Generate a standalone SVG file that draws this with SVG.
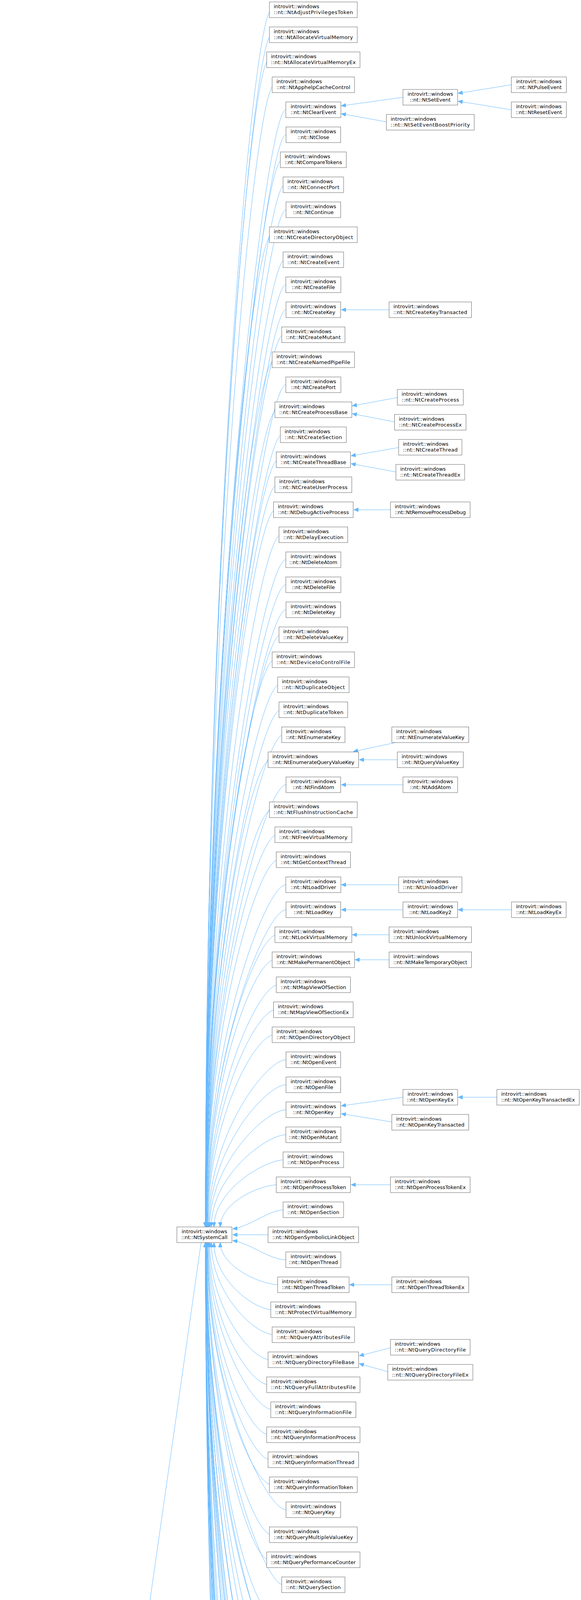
<svg xmlns="http://www.w3.org/2000/svg" width="1488" height="6387" viewBox="0 0 1488 6387">
<style>
rect{fill:#fff;stroke:#666;stroke-width:1}
text{font-family:"DejaVu Sans","Liberation Sans",sans-serif;font-size:13px;fill:#000}
.c{text-anchor:middle}
#edges path{fill:none;stroke:#63b8ff;stroke-width:1;marker-end:url(#a)}
.root rect{fill:#999}
</style>
<defs><marker id="a" markerUnits="userSpaceOnUse" markerWidth="12" markerHeight="10" refX="12" refY="5" orient="auto" viewBox="0 0 12 10"><path d="M0,0 L12,5 L0,10 z" fill="#63b8ff" stroke="#63b8ff"/></marker></defs>
<rect x="0" y="0" width="1488" height="6387" style="fill:#fff;stroke:none"/>
<g id="edges">
<path d="M209,4729 L163,4729"/>
<path d="M515,3181 L297,4707"/>
<path d="M519,6277 L297,4751"/>
<path d="M705.5,6297 L629,6297"/>
<path d="M715,6341 L622,6318"/>
<path d="M696,25 C646,25 526,1427 526,3141"/>
<path d="M696,89 C646,89 526,1462 526,3141"/>
<path d="M689,153 C639,153 526,1498 526,3141"/>
<path d="M702.5,217 C652,217 526,1533 526,3141"/>
<path d="M732,281 C682,281 526,1568 526,3141"/>
<path d="M732.5,345 C682,345 526,1603 526,3141"/>
<path d="M722,409 C672,409 526,1638 526,3141"/>
<path d="M729,473 C679,473 526,1673 526,3141"/>
<path d="M732.5,537 C682,537 526,1708 526,3141"/>
<path d="M696,601 C646,601 526,1744 526,3141"/>
<path d="M729,665 C679,665 526,1779 526,3141"/>
<path d="M732,729 C682,729 526,1814 526,3141"/>
<path d="M732.5,793 C682,793 526,1849 526,3141"/>
<path d="M725.5,857 C675,857 526,1884 526,3141"/>
<path d="M702.5,921 C652,921 526,1920 526,3141"/>
<path d="M732,985 C682,985 526,1955 526,3141"/>
<path d="M709,1049 C659,1049 526,1990 526,3141"/>
<path d="M722,1113 C672,1113 526,2025 526,3141"/>
<path d="M712.5,1177 C662,1177 526,2060 526,3141"/>
<path d="M709,1241 C659,1241 527,2096 527,3141"/>
<path d="M705.5,1305 C655,1305 527,2131 527,3141"/>
<path d="M719,1369 C669,1369 527,2166 527,3141"/>
<path d="M732,1433 C682,1433 527,2201 527,3141"/>
<path d="M732,1497 C682,1497 527,2236 527,3141"/>
<path d="M732.5,1561 C682,1561 527,2272 527,3141"/>
<path d="M719,1625 C669,1625 527,2307 527,3141"/>
<path d="M702.5,1689 C652,1689 527,2342 527,3141"/>
<path d="M715.5,1753 C665,1753 527,2377 527,3141"/>
<path d="M719,1817 C669,1817 527,2412 527,3141"/>
<path d="M725.5,1881 C675,1881 528,2448 528,3141"/>
<path d="M692.5,1945 C642,1945 528,2483 528,3141"/>
<path d="M732.5,2009 C682,2009 528,2518 528,3141"/>
<path d="M696,2073 C646,2073 528,2553 528,3141"/>
<path d="M709,2137 C659,2137 528,2588 528,3141"/>
<path d="M712.5,2201 C662,2201 528,2624 528,3141"/>
<path d="M732,2265 C682,2265 528,2659 528,3141"/>
<path d="M732.5,2329 C682,2329 529,2694 529,3141"/>
<path d="M709,2393 C659,2393 529,2729 529,3141"/>
<path d="M702.5,2457 C652,2457 530,2764 530,3141"/>
<path d="M712.5,2521 C662,2521 530,2800 530,3141"/>
<path d="M705.5,2585 C655,2585 531,2835 531,3141"/>
<path d="M702.5,2649 C652,2649 532,2870 532,3141"/>
<path d="M732.5,2713 C682,2713 533,2905 533,3141"/>
<path d="M732.5,2777 C682,2777 535,2940 535,3141"/>
<path d="M732.5,2841 C682,2841 537,2976 537,3141"/>
<path d="M732,2905 C682,2905 541,3011 541,3141"/>
<path d="M729,2969 C679,2969 548,3046 548,3141"/>
<path d="M712.5,3033 C662,3033 564,3081 564,3141"/>
<path d="M729,3097 C689,3097 640,3140 596,3146"/>
<path d="M692.5,3161 L596,3161"/>
<path d="M732,3225 C690,3225 640,3182 596,3176"/>
<path d="M715.5,3289 C665,3289 564,3240 564,3181"/>
<path d="M699,3353 C649,3353 548,3275 548,3181"/>
<path d="M702.5,3417 C652,3417 541,3310 541,3181"/>
<path d="M692.5,3481 C642,3481 537,3346 537,3181"/>
<path d="M689,3545 C639,3545 535,3381 535,3181"/>
<path d="M699,3609 C649,3609 533,3416 533,3181"/>
<path d="M689,3673 C639,3673 532,3451 532,3181"/>
<path d="M692.5,3737 C642,3737 531,3486 531,3181"/>
<path d="M696,3801 C646,3801 530,3522 530,3181"/>
<path d="M732.5,3865 C682,3865 530,3557 530,3181"/>
<path d="M696,3929 C646,3929 529,3592 529,3181"/>
<path d="M689,3993 C639,3993 529,3627 529,3181"/>
<path d="M725.5,4057 C675,4057 528,3662 528,3181"/>
<path d="M689,4121 C639,4121 528,3698 528,3181"/>
<path d="M692.5,4185 C642,4185 528,3733 528,3181"/>
<path d="M715.5,4249 C665,4249 528,3768 528,3181"/>
<path d="M705.5,4313 C655,4313 528,3803 528,3181"/>
<path d="M679.5,4377 C629,4377 528,3838 528,3181"/>
<path d="M719,4441 C669,4441 528,3874 528,3181"/>
<path d="M709,4505 C659,4505 527,3909 527,3181"/>
<path d="M722,4569 C672,4569 527,3944 527,3181"/>
<path d="M705.5,4633 C655,4633 527,3979 527,3181"/>
<path d="M699,4697 C649,4697 527,4014 527,3181"/>
<path d="M732.5,4761 C682,4761 527,4050 527,3181"/>
<path d="M732,4825 C682,4825 527,4085 527,3181"/>
<path d="M732.5,4889 C682,4889 527,4120 527,3181"/>
<path d="M729,4953 C679,4953 527,4155 527,3181"/>
<path d="M725.5,5017 C675,5017 527,4190 527,3181"/>
<path d="M732.5,5081 C682,5081 527,4226 527,3181"/>
<path d="M712.5,5145 C662,5145 526,4261 526,3181"/>
<path d="M705.5,5209 C655,5209 526,4296 526,3181"/>
<path d="M696,5273 C646,5273 526,4331 526,3181"/>
<path d="M699,5337 C649,5337 526,4366 526,3181"/>
<path d="M702.5,5401 C652,5401 526,4402 526,3181"/>
<path d="M699,5465 C649,5465 526,4437 526,3181"/>
<path d="M722,5529 C672,5529 526,4472 526,3181"/>
<path d="M729,5593 C679,5593 526,4507 526,3181"/>
<path d="M686,5657 C636,5657 526,4542 526,3181"/>
<path d="M719,5721 C669,5721 526,4578 526,3181"/>
<path d="M722,5785 C672,5785 526,4613 526,3181"/>
<path d="M712.5,5849 C662,5849 526,4648 526,3181"/>
<path d="M715.5,5913 C665,5913 526,4683 526,3181"/>
<path d="M725.5,5977 C675,5977 526,4718 526,3181"/>
<path d="M732,6041 C682,6041 526,4754 526,3181"/>
<path d="M705.5,6105 C655,6105 526,4789 526,3181"/>
<path d="M705.5,6169 C655,6169 526,4824 526,3181"/>
<path d="M705.5,6233 C655,6233 526,4859 526,3181"/>
<path d="M1032,249 L874,271"/>
<path d="M995.5,313 L874,291"/>
<path d="M1309.5,217 L1173,239"/>
<path d="M1309.5,281 L1173,259"/>
<path d="M1002,793 L874,793"/>
<path d="M1021.5,1017 L902,1039"/>
<path d="M1015,1081 L902,1059"/>
<path d="M1025,1145 L899,1167"/>
<path d="M1018.5,1209 L899,1187"/>
<path d="M1005,1305 L906,1305"/>
<path d="M1013,1901 L905,1924"/>
<path d="M1021.5,1945 L920,1945"/>
<path d="M1032,2009 L874,2009"/>
<path d="M1025,2265 L874,2265"/>
<path d="M1032,2329 L874,2329"/>
<path d="M1310,2329 L1173,2329"/>
<path d="M1002,2393 L902,2393"/>
<path d="M1002,2457 L909,2457"/>
<path d="M1032,2809 L874,2831"/>
<path d="M1008.5,2873 L874,2851"/>
<path d="M1280,2809 L1173,2809"/>
<path d="M1005,3033 L899,3033"/>
<path d="M1008.5,3289 L895,3289"/>
<path d="M1005,3449 L920,3471"/>
<path d="M998.5,3513 L920,3491"/>
<path d="M985.5,4185 L920,4185"/>
<path d="M1032,4537 L888,4559"/>
<path d="M1032,4601 L888,4579"/>
<path d="M998.5,4953 L881,4953"/>
<path d="M1032,5081 L874,5081"/>
<path d="M992,6137 L906,6159"/>
<path d="M1002,6201 L906,6179"/>
</g>
<g id="SystemCall" class="root" transform="translate(83.5,4729)"><rect x="-78.5" y="-20" width="157" height="40"/><text class="c" y="4">introvirt::SystemCall</text></g>
<g id="WindowsSystemCall" transform="translate(290.5,4729)"><rect x="-81.5" y="-20" width="163" height="40"/><text x="-70.5" y="-4">introvirt::windows</text><text x="-70.5" y="11" textLength="141">::WindowsSystemCall</text></g>
<g id="NtSystemCall" transform="translate(523.5,3161)"><rect x="-70.5" y="-20" width="141" height="40"/><text class="c" y="-4">introvirt::windows</text><text class="c" y="11">::nt::NtSystemCall</text></g>
<g id="Win32kSystemCall" transform="translate(524,6297)"><rect x="-104" y="-20" width="208" height="40"/><text x="-93" y="-4">introvirt::windows</text><text x="-93" y="11" textLength="186">::win32k::Win32kSystemCall</text></g>
<g id="n0" transform="translate(802.5,25)"><rect x="-112.5" y="-20" width="225" height="40"/><text x="-101.5" y="-4">introvirt::windows</text><text x="-101.5" y="11" textLength="203">::nt::NtAdjustPrivilegesToken</text></g>
<g id="n1" transform="translate(802.5,89)"><rect x="-112.5" y="-20" width="225" height="40"/><text x="-101.5" y="-4">introvirt::windows</text><text x="-101.5" y="11" textLength="203">::nt::NtAllocateVirtualMemory</text></g>
<g id="n2" transform="translate(802.5,153)"><rect x="-119.5" y="-20" width="239" height="40"/><text x="-108.5" y="-4">introvirt::windows</text><text x="-108.5" y="11" textLength="217">::nt::NtAllocateVirtualMemoryEx</text></g>
<g id="n3" transform="translate(802.5,217)"><rect x="-105.5" y="-20" width="211" height="40"/><text x="-94.5" y="-4">introvirt::windows</text><text x="-94.5" y="11" textLength="189">::nt::NtApphelpCacheControl</text></g>
<g id="n4" transform="translate(802.5,281)"><rect x="-70.5" y="-20" width="141" height="40"/><text class="c" y="-4">introvirt::windows</text><text class="c" y="11">::nt::NtClearEvent</text></g>
<g id="n5" transform="translate(802.5,345)"><rect x="-70" y="-20" width="140" height="40"/><text class="c" y="-4">introvirt::windows</text><text class="c" y="11">::nt::NtClose</text></g>
<g id="n6" transform="translate(802.5,409)"><rect x="-84.5" y="-20" width="169" height="40"/><text x="-73.5" y="-4">introvirt::windows</text><text x="-73.5" y="11" textLength="147">::nt::NtCompareTokens</text></g>
<g id="n7" transform="translate(802.5,473)"><rect x="-77.5" y="-20" width="155" height="40"/><text x="-66.5" y="-4">introvirt::windows</text><text x="-66.5" y="11" textLength="133">::nt::NtConnectPort</text></g>
<g id="n8" transform="translate(802.5,537)"><rect x="-70" y="-20" width="140" height="40"/><text class="c" y="-4">introvirt::windows</text><text class="c" y="11">::nt::NtContinue</text></g>
<g id="n9" transform="translate(802.5,601)"><rect x="-112.5" y="-20" width="225" height="40"/><text x="-101.5" y="-4">introvirt::windows</text><text x="-101.5" y="11" textLength="203">::nt::NtCreateDirectoryObject</text></g>
<g id="n10" transform="translate(802.5,665)"><rect x="-77.5" y="-20" width="155" height="40"/><text x="-66.5" y="-4">introvirt::windows</text><text x="-66.5" y="11" textLength="133">::nt::NtCreateEvent</text></g>
<g id="n11" transform="translate(802.5,729)"><rect x="-70.5" y="-20" width="141" height="40"/><text class="c" y="-4">introvirt::windows</text><text class="c" y="11">::nt::NtCreateFile</text></g>
<g id="n12" transform="translate(802.5,793)"><rect x="-70" y="-20" width="140" height="40"/><text class="c" y="-4">introvirt::windows</text><text class="c" y="11">::nt::NtCreateKey</text></g>
<g id="n13" transform="translate(802.5,857)"><rect x="-81" y="-20" width="162" height="40"/><text x="-70" y="-4">introvirt::windows</text><text x="-70" y="11" textLength="140">::nt::NtCreateMutant</text></g>
<g id="n14" transform="translate(802.5,921)"><rect x="-105.5" y="-20" width="211" height="40"/><text x="-94.5" y="-4">introvirt::windows</text><text x="-94.5" y="11" textLength="189">::nt::NtCreateNamedPipeFile</text></g>
<g id="n15" transform="translate(802.5,985)"><rect x="-70.5" y="-20" width="141" height="40"/><text class="c" y="-4">introvirt::windows</text><text class="c" y="11">::nt::NtCreatePort</text></g>
<g id="n16" transform="translate(802.5,1049)"><rect x="-98.5" y="-20" width="197" height="40"/><text x="-87.5" y="-4">introvirt::windows</text><text x="-87.5" y="11" textLength="175">::nt::NtCreateProcessBase</text></g>
<g id="n17" transform="translate(802.5,1113)"><rect x="-84.5" y="-20" width="169" height="40"/><text x="-73.5" y="-4">introvirt::windows</text><text x="-73.5" y="11" textLength="147">::nt::NtCreateSection</text></g>
<g id="n18" transform="translate(802.5,1177)"><rect x="-95" y="-20" width="190" height="40"/><text x="-84" y="-4">introvirt::windows</text><text x="-84" y="11" textLength="168">::nt::NtCreateThreadBase</text></g>
<g id="n19" transform="translate(802.5,1241)"><rect x="-98.5" y="-20" width="197" height="40"/><text x="-87.5" y="-4">introvirt::windows</text><text x="-87.5" y="11" textLength="175">::nt::NtCreateUserProcess</text></g>
<g id="n20" transform="translate(802.5,1305)"><rect x="-102" y="-20" width="204" height="40"/><text x="-91" y="-4">introvirt::windows</text><text x="-91" y="11" textLength="182">::nt::NtDebugActiveProcess</text></g>
<g id="n21" transform="translate(802.5,1369)"><rect x="-88" y="-20" width="176" height="40"/><text x="-77" y="-4">introvirt::windows</text><text x="-77" y="11" textLength="154">::nt::NtDelayExecution</text></g>
<g id="n22" transform="translate(802.5,1433)"><rect x="-70.5" y="-20" width="141" height="40"/><text class="c" y="-4">introvirt::windows</text><text class="c" y="11">::nt::NtDeleteAtom</text></g>
<g id="n23" transform="translate(802.5,1497)"><rect x="-70.5" y="-20" width="141" height="40"/><text class="c" y="-4">introvirt::windows</text><text class="c" y="11">::nt::NtDeleteFile</text></g>
<g id="n24" transform="translate(802.5,1561)"><rect x="-70" y="-20" width="140" height="40"/><text class="c" y="-4">introvirt::windows</text><text class="c" y="11">::nt::NtDeleteKey</text></g>
<g id="n25" transform="translate(802.5,1625)"><rect x="-88" y="-20" width="176" height="40"/><text x="-77" y="-4">introvirt::windows</text><text x="-77" y="11" textLength="154">::nt::NtDeleteValueKey</text></g>
<g id="n26" transform="translate(802.5,1689)"><rect x="-105.5" y="-20" width="211" height="40"/><text x="-94.5" y="-4">introvirt::windows</text><text x="-94.5" y="11" textLength="189">::nt::NtDeviceIoControlFile</text></g>
<g id="n27" transform="translate(802.5,1753)"><rect x="-91.5" y="-20" width="183" height="40"/><text x="-80.5" y="-4">introvirt::windows</text><text x="-80.5" y="11" textLength="161">::nt::NtDuplicateObject</text></g>
<g id="n28" transform="translate(802.5,1817)"><rect x="-88" y="-20" width="176" height="40"/><text x="-77" y="-4">introvirt::windows</text><text x="-77" y="11" textLength="154">::nt::NtDuplicateToken</text></g>
<g id="n29" transform="translate(802.5,1881)"><rect x="-81" y="-20" width="162" height="40"/><text x="-70" y="-4">introvirt::windows</text><text x="-70" y="11" textLength="140">::nt::NtEnumerateKey</text></g>
<g id="n30" transform="translate(802.5,1945)"><rect x="-116" y="-20" width="232" height="40"/><text x="-105" y="-4">introvirt::windows</text><text x="-105" y="11" textLength="210">::nt::NtEnumerateQueryValueKey</text></g>
<g id="n31" transform="translate(802.5,2009)"><rect x="-70" y="-20" width="140" height="40"/><text class="c" y="-4">introvirt::windows</text><text class="c" y="11">::nt::NtFindAtom</text></g>
<g id="n32" transform="translate(802.5,2073)"><rect x="-112.5" y="-20" width="225" height="40"/><text x="-101.5" y="-4">introvirt::windows</text><text x="-101.5" y="11" textLength="203">::nt::NtFlushInstructionCache</text></g>
<g id="n33" transform="translate(802.5,2137)"><rect x="-98.5" y="-20" width="197" height="40"/><text x="-87.5" y="-4">introvirt::windows</text><text x="-87.5" y="11" textLength="175">::nt::NtFreeVirtualMemory</text></g>
<g id="n34" transform="translate(802.5,2201)"><rect x="-95" y="-20" width="190" height="40"/><text x="-84" y="-4">introvirt::windows</text><text x="-84" y="11" textLength="168">::nt::NtGetContextThread</text></g>
<g id="n35" transform="translate(802.5,2265)"><rect x="-70.5" y="-20" width="141" height="40"/><text class="c" y="-4">introvirt::windows</text><text class="c" y="11">::nt::NtLoadDriver</text></g>
<g id="n36" transform="translate(802.5,2329)"><rect x="-70" y="-20" width="140" height="40"/><text class="c" y="-4">introvirt::windows</text><text class="c" y="11">::nt::NtLoadKey</text></g>
<g id="n37" transform="translate(802.5,2393)"><rect x="-98.5" y="-20" width="197" height="40"/><text x="-87.5" y="-4">introvirt::windows</text><text x="-87.5" y="11" textLength="175">::nt::NtLockVirtualMemory</text></g>
<g id="n38" transform="translate(802.5,2457)"><rect x="-105.5" y="-20" width="211" height="40"/><text x="-94.5" y="-4">introvirt::windows</text><text x="-94.5" y="11" textLength="189">::nt::NtMakePermanentObject</text></g>
<g id="n39" transform="translate(802.5,2521)"><rect x="-95" y="-20" width="190" height="40"/><text x="-84" y="-4">introvirt::windows</text><text x="-84" y="11" textLength="168">::nt::NtMapViewOfSection</text></g>
<g id="n40" transform="translate(802.5,2585)"><rect x="-102" y="-20" width="204" height="40"/><text x="-91" y="-4">introvirt::windows</text><text x="-91" y="11" textLength="182">::nt::NtMapViewOfSectionEx</text></g>
<g id="n41" transform="translate(802.5,2649)"><rect x="-105.5" y="-20" width="211" height="40"/><text x="-94.5" y="-4">introvirt::windows</text><text x="-94.5" y="11" textLength="189">::nt::NtOpenDirectoryObject</text></g>
<g id="n42" transform="translate(802.5,2713)"><rect x="-70" y="-20" width="140" height="40"/><text class="c" y="-4">introvirt::windows</text><text class="c" y="11">::nt::NtOpenEvent</text></g>
<g id="n43" transform="translate(802.5,2777)"><rect x="-70" y="-20" width="140" height="40"/><text class="c" y="-4">introvirt::windows</text><text class="c" y="11">::nt::NtOpenFile</text></g>
<g id="n44" transform="translate(802.5,2841)"><rect x="-70" y="-20" width="140" height="40"/><text class="c" y="-4">introvirt::windows</text><text class="c" y="11">::nt::NtOpenKey</text></g>
<g id="n45" transform="translate(802.5,2905)"><rect x="-70.5" y="-20" width="141" height="40"/><text class="c" y="-4">introvirt::windows</text><text class="c" y="11">::nt::NtOpenMutant</text></g>
<g id="n46" transform="translate(802.5,2969)"><rect x="-77.5" y="-20" width="155" height="40"/><text x="-66.5" y="-4">introvirt::windows</text><text x="-66.5" y="11" textLength="133">::nt::NtOpenProcess</text></g>
<g id="n47" transform="translate(802.5,3033)"><rect x="-95" y="-20" width="190" height="40"/><text x="-84" y="-4">introvirt::windows</text><text x="-84" y="11" textLength="168">::nt::NtOpenProcessToken</text></g>
<g id="n48" transform="translate(802.5,3097)"><rect x="-77.5" y="-20" width="155" height="40"/><text x="-66.5" y="-4">introvirt::windows</text><text x="-66.5" y="11" textLength="133">::nt::NtOpenSection</text></g>
<g id="n49" transform="translate(802.5,3161)"><rect x="-116" y="-20" width="232" height="40"/><text x="-105" y="-4">introvirt::windows</text><text x="-105" y="11" textLength="210">::nt::NtOpenSymbolicLinkObject</text></g>
<g id="n50" transform="translate(802.5,3225)"><rect x="-70.5" y="-20" width="141" height="40"/><text class="c" y="-4">introvirt::windows</text><text class="c" y="11">::nt::NtOpenThread</text></g>
<g id="n51" transform="translate(802.5,3289)"><rect x="-91.5" y="-20" width="183" height="40"/><text x="-80.5" y="-4">introvirt::windows</text><text x="-80.5" y="11" textLength="161">::nt::NtOpenThreadToken</text></g>
<g id="n52" transform="translate(802.5,3353)"><rect x="-109" y="-20" width="218" height="40"/><text x="-98" y="-4">introvirt::windows</text><text x="-98" y="11" textLength="196">::nt::NtProtectVirtualMemory</text></g>
<g id="n53" transform="translate(802.5,3417)"><rect x="-105.5" y="-20" width="211" height="40"/><text x="-94.5" y="-4">introvirt::windows</text><text x="-94.5" y="11" textLength="189">::nt::NtQueryAttributesFile</text></g>
<g id="n54" transform="translate(802.5,3481)"><rect x="-116" y="-20" width="232" height="40"/><text x="-105" y="-4">introvirt::windows</text><text x="-105" y="11" textLength="210">::nt::NtQueryDirectoryFileBase</text></g>
<g id="n55" transform="translate(802.5,3545)"><rect x="-119.5" y="-20" width="239" height="40"/><text x="-108.5" y="-4">introvirt::windows</text><text x="-108.5" y="11" textLength="217">::nt::NtQueryFullAttributesFile</text></g>
<g id="n56" transform="translate(802.5,3609)"><rect x="-109" y="-20" width="218" height="40"/><text x="-98" y="-4">introvirt::windows</text><text x="-98" y="11" textLength="196">::nt::NtQueryInformationFile</text></g>
<g id="n57" transform="translate(802.5,3673)"><rect x="-119.5" y="-20" width="239" height="40"/><text x="-108.5" y="-4">introvirt::windows</text><text x="-108.5" y="11" textLength="217">::nt::NtQueryInformationProcess</text></g>
<g id="n58" transform="translate(802.5,3737)"><rect x="-116" y="-20" width="232" height="40"/><text x="-105" y="-4">introvirt::windows</text><text x="-105" y="11" textLength="210">::nt::NtQueryInformationThread</text></g>
<g id="n59" transform="translate(802.5,3801)"><rect x="-112.5" y="-20" width="225" height="40"/><text x="-101.5" y="-4">introvirt::windows</text><text x="-101.5" y="11" textLength="203">::nt::NtQueryInformationToken</text></g>
<g id="n60" transform="translate(802.5,3865)"><rect x="-70" y="-20" width="140" height="40"/><text class="c" y="-4">introvirt::windows</text><text class="c" y="11">::nt::NtQueryKey</text></g>
<g id="n61" transform="translate(802.5,3929)"><rect x="-112.5" y="-20" width="225" height="40"/><text x="-101.5" y="-4">introvirt::windows</text><text x="-101.5" y="11" textLength="203">::nt::NtQueryMultipleValueKey</text></g>
<g id="n62" transform="translate(802.5,3993)"><rect x="-119.5" y="-20" width="239" height="40"/><text x="-108.5" y="-4">introvirt::windows</text><text x="-108.5" y="11" textLength="217">::nt::NtQueryPerformanceCounter</text></g>
<g id="n63" transform="translate(802.5,4057)"><rect x="-81" y="-20" width="162" height="40"/><text x="-70" y="-4">introvirt::windows</text><text x="-70" y="11" textLength="140">::nt::NtQuerySection</text></g>
<g id="n64" transform="translate(802.5,4121)"><rect x="-119.5" y="-20" width="239" height="40"/><text x="-108.5" y="-4">introvirt::windows</text><text x="-108.5" y="11" textLength="217">::nt::NtQuerySymbolicLinkObject</text></g>
<g id="n65" transform="translate(802.5,4185)"><rect x="-116" y="-20" width="232" height="40"/><text x="-105" y="-4">introvirt::windows</text><text x="-105" y="11" textLength="210">::nt::NtQuerySystemInformation</text></g>
<g id="n66" transform="translate(802.5,4249)"><rect x="-91.5" y="-20" width="183" height="40"/><text x="-80.5" y="-4">introvirt::windows</text><text x="-80.5" y="11" textLength="161">::nt::NtQuerySystemTime</text></g>
<g id="n67" transform="translate(802.5,4313)"><rect x="-102" y="-20" width="204" height="40"/><text x="-91" y="-4">introvirt::windows</text><text x="-91" y="11" textLength="182">::nt::NtQueryVirtualMemory</text></g>
<g id="n68" transform="translate(802.5,4377)"><rect x="-130" y="-20" width="260" height="40"/><text x="-119" y="-4">introvirt::windows</text><text x="-119" y="11" textLength="238">::nt::NtQueryVolumeInformationFile</text></g>
<g id="n69" transform="translate(802.5,4441)"><rect x="-88" y="-20" width="176" height="40"/><text x="-77" y="-4">introvirt::windows</text><text x="-77" y="11" textLength="154">::nt::NtQueueApcThread</text></g>
<g id="n70" transform="translate(802.5,4505)"><rect x="-98.5" y="-20" width="197" height="40"/><text x="-87.5" y="-4">introvirt::windows</text><text x="-87.5" y="11" textLength="175">::nt::NtReadVirtualMemory</text></g>
<g id="n71" transform="translate(802.5,4569)"><rect x="-84.5" y="-20" width="169" height="40"/><text x="-73.5" y="-4">introvirt::windows</text><text x="-73.5" y="11" textLength="147">::nt::NtReadWriteFile</text></g>
<g id="n72" transform="translate(802.5,4633)"><rect x="-102" y="-20" width="204" height="40"/><text x="-91" y="-4">introvirt::windows</text><text x="-91" y="11" textLength="182">::nt::NtRemoveIoCompletion</text></g>
<g id="n73" transform="translate(802.5,4697)"><rect x="-109" y="-20" width="218" height="40"/><text x="-98" y="-4">introvirt::windows</text><text x="-98" y="11" textLength="196">::nt::NtRemoveIoCompletionEx</text></g>
<g id="n74" transform="translate(802.5,4761)"><rect x="-70" y="-20" width="140" height="40"/><text class="c" y="-4">introvirt::windows</text><text class="c" y="11">::nt::NtRenameKey</text></g>
<g id="n75" transform="translate(802.5,4825)"><rect x="-70.5" y="-20" width="141" height="40"/><text class="c" y="-4">introvirt::windows</text><text class="c" y="11">::nt::NtReplaceKey</text></g>
<g id="n76" transform="translate(802.5,4889)"><rect x="-70" y="-20" width="140" height="40"/><text class="c" y="-4">introvirt::windows</text><text class="c" y="11">::nt::NtReplyPort</text></g>
<g id="n77" transform="translate(802.5,4953)"><rect x="-77.5" y="-20" width="155" height="40"/><text x="-66.5" y="-4">introvirt::windows</text><text x="-66.5" y="11" textLength="133">::nt::NtRequestPort</text></g>
<g id="n78" transform="translate(802.5,5017)"><rect x="-81" y="-20" width="162" height="40"/><text x="-70" y="-4">introvirt::windows</text><text x="-70" y="11" textLength="140">::nt::NtResumeThread</text></g>
<g id="n79" transform="translate(802.5,5081)"><rect x="-70" y="-20" width="140" height="40"/><text class="c" y="-4">introvirt::windows</text><text class="c" y="11">::nt::NtSaveKey</text></g>
<g id="n80" transform="translate(802.5,5145)"><rect x="-95" y="-20" width="190" height="40"/><text x="-84" y="-4">introvirt::windows</text><text x="-84" y="11" textLength="168">::nt::NtSetContextThread</text></g>
<g id="n81" transform="translate(802.5,5209)"><rect x="-102" y="-20" width="204" height="40"/><text x="-91" y="-4">introvirt::windows</text><text x="-91" y="11" textLength="182">::nt::NtSetInformationFile</text></g>
<g id="n82" transform="translate(802.5,5273)"><rect x="-112.5" y="-20" width="225" height="40"/><text x="-101.5" y="-4">introvirt::windows</text><text x="-101.5" y="11" textLength="203">::nt::NtSetInformationProcess</text></g>
<g id="n83" transform="translate(802.5,5337)"><rect x="-109" y="-20" width="218" height="40"/><text x="-98" y="-4">introvirt::windows</text><text x="-98" y="11" textLength="196">::nt::NtSetInformationThread</text></g>
<g id="n84" transform="translate(802.5,5401)"><rect x="-105.5" y="-20" width="211" height="40"/><text x="-94.5" y="-4">introvirt::windows</text><text x="-94.5" y="11" textLength="189">::nt::NtSetInformationToken</text></g>
<g id="n85" transform="translate(802.5,5465)"><rect x="-109" y="-20" width="218" height="40"/><text x="-98" y="-4">introvirt::windows</text><text x="-98" y="11" textLength="196">::nt::NtSetSystemInformation</text></g>
<g id="n86" transform="translate(802.5,5529)"><rect x="-84.5" y="-20" width="169" height="40"/><text x="-73.5" y="-4">introvirt::windows</text><text x="-73.5" y="11" textLength="147">::nt::NtSetSystemTime</text></g>
<g id="n87" transform="translate(802.5,5593)"><rect x="-77.5" y="-20" width="155" height="40"/><text x="-66.5" y="-4">introvirt::windows</text><text x="-66.5" y="11" textLength="133">::nt::NtSetValueKey</text></g>
<g id="n88" transform="translate(802.5,5657)"><rect x="-123" y="-20" width="246" height="40"/><text x="-112" y="-4">introvirt::windows</text><text x="-112" y="11" textLength="224">::nt::NtSetVolumeInformationFile</text></g>
<g id="n89" transform="translate(802.5,5721)"><rect x="-88" y="-20" width="176" height="40"/><text x="-77" y="-4">introvirt::windows</text><text x="-77" y="11" textLength="154">::nt::NtShutdownSystem</text></g>
<g id="n90" transform="translate(802.5,5785)"><rect x="-84.5" y="-20" width="169" height="40"/><text x="-73.5" y="-4">introvirt::windows</text><text x="-73.5" y="11" textLength="147">::nt::NtSuspendThread</text></g>
<g id="n91" transform="translate(802.5,5849)"><rect x="-95" y="-20" width="190" height="40"/><text x="-84" y="-4">introvirt::windows</text><text x="-84" y="11" textLength="168">::nt::NtTerminateProcess</text></g>
<g id="n92" transform="translate(802.5,5913)"><rect x="-91.5" y="-20" width="183" height="40"/><text x="-80.5" y="-4">introvirt::windows</text><text x="-80.5" y="11" textLength="161">::nt::NtTerminateThread</text></g>
<g id="n93" transform="translate(802.5,5977)"><rect x="-81" y="-20" width="162" height="40"/><text x="-70" y="-4">introvirt::windows</text><text x="-70" y="11" textLength="140">::nt::NtTraceControl</text></g>
<g id="n94" transform="translate(802.5,6041)"><rect x="-70.5" y="-20" width="141" height="40"/><text class="c" y="-4">introvirt::windows</text><text class="c" y="11">::nt::NtTraceEvent</text></g>
<g id="n95" transform="translate(802.5,6105)"><rect x="-102" y="-20" width="204" height="40"/><text x="-91" y="-4">introvirt::windows</text><text x="-91" y="11" textLength="182">::nt::NtUnmapViewOfSection</text></g>
<g id="n96" transform="translate(802.5,6169)"><rect x="-102" y="-20" width="204" height="40"/><text x="-91" y="-4">introvirt::windows</text><text x="-91" y="11" textLength="182">::nt::NtWaitForObjectsBase</text></g>
<g id="n97" transform="translate(802.5,6233)"><rect x="-102" y="-20" width="204" height="40"/><text x="-91" y="-4">introvirt::windows</text><text x="-91" y="11" textLength="182">::nt::NtWriteVirtualMemory</text></g>
<g id="n98" transform="translate(802.5,6297)"><rect x="-102" y="-20" width="204" height="40"/><text x="-91" y="-4">introvirt::windows</text><text x="-91" y="11" textLength="182">::win32k::NtUserGetMessage</text></g>
<g id="n99" transform="translate(802.5,6361)"><rect x="-105.5" y="-20" width="211" height="40"/><text x="-94.5" y="-4">introvirt::windows</text><text x="-94.5" y="11" textLength="189">::win32k::NtUserPostMessage</text></g>
<g id="c2-SetEvent" transform="translate(1102,249)"><rect x="-70" y="-20" width="140" height="40"/><text class="c" y="-4">introvirt::windows</text><text class="c" y="11">::nt::NtSetEvent</text></g>
<g id="c2-SetEventBoostPriority" transform="translate(1102,313)"><rect x="-112.5" y="-20" width="225" height="40"/><text x="-101.5" y="-4">introvirt::windows</text><text x="-101.5" y="11" textLength="203">::nt::NtSetEventBoostPriority</text></g>
<g id="c2-CreateKeyTransacted" transform="translate(1102,793)"><rect x="-105.5" y="-20" width="211" height="40"/><text x="-94.5" y="-4">introvirt::windows</text><text x="-94.5" y="11" textLength="189">::nt::NtCreateKeyTransacted</text></g>
<g id="c2-CreateProcess" transform="translate(1102,1017)"><rect x="-84.5" y="-20" width="169" height="40"/><text x="-73.5" y="-4">introvirt::windows</text><text x="-73.5" y="11" textLength="147">::nt::NtCreateProcess</text></g>
<g id="c2-CreateProcessEx" transform="translate(1102,1081)"><rect x="-91.5" y="-20" width="183" height="40"/><text x="-80.5" y="-4">introvirt::windows</text><text x="-80.5" y="11" textLength="161">::nt::NtCreateProcessEx</text></g>
<g id="c2-CreateThread" transform="translate(1102,1145)"><rect x="-81" y="-20" width="162" height="40"/><text x="-70" y="-4">introvirt::windows</text><text x="-70" y="11" textLength="140">::nt::NtCreateThread</text></g>
<g id="c2-CreateThreadEx" transform="translate(1102,1209)"><rect x="-88" y="-20" width="176" height="40"/><text x="-77" y="-4">introvirt::windows</text><text x="-77" y="11" textLength="154">::nt::NtCreateThreadEx</text></g>
<g id="c2-RemoveProcessDebug" transform="translate(1102,1305)"><rect x="-102" y="-20" width="204" height="40"/><text x="-91" y="-4">introvirt::windows</text><text x="-91" y="11" textLength="182">::nt::NtRemoveProcessDebug</text></g>
<g id="c2-EnumerateValueKey" transform="translate(1102,1881)"><rect x="-98.5" y="-20" width="197" height="40"/><text x="-87.5" y="-4">introvirt::windows</text><text x="-87.5" y="11" textLength="175">::nt::NtEnumerateValueKey</text></g>
<g id="c2-QueryValueKey" transform="translate(1102,1945)"><rect x="-84.5" y="-20" width="169" height="40"/><text x="-73.5" y="-4">introvirt::windows</text><text x="-73.5" y="11" textLength="147">::nt::NtQueryValueKey</text></g>
<g id="c2-AddAtom" transform="translate(1102,2009)"><rect x="-70" y="-20" width="140" height="40"/><text class="c" y="-4">introvirt::windows</text><text class="c" y="11">::nt::NtAddAtom</text></g>
<g id="c2-UnloadDriver" transform="translate(1102,2265)"><rect x="-81" y="-20" width="162" height="40"/><text x="-70" y="-4">introvirt::windows</text><text x="-70" y="11" textLength="140">::nt::NtUnloadDriver</text></g>
<g id="c2-LoadKey2" transform="translate(1102,2329)"><rect x="-70" y="-20" width="140" height="40"/><text class="c" y="-4">introvirt::windows</text><text class="c" y="11">::nt::NtLoadKey2</text></g>
<g id="c2-UnlockVirtualMemory" transform="translate(1102,2393)"><rect x="-105.5" y="-20" width="211" height="40"/><text x="-94.5" y="-4">introvirt::windows</text><text x="-94.5" y="11" textLength="189">::nt::NtUnlockVirtualMemory</text></g>
<g id="c2-MakeTemporaryObject" transform="translate(1102,2457)"><rect x="-105.5" y="-20" width="211" height="40"/><text x="-94.5" y="-4">introvirt::windows</text><text x="-94.5" y="11" textLength="189">::nt::NtMakeTemporaryObject</text></g>
<g id="c2-OpenKeyEx" transform="translate(1102,2809)"><rect x="-70" y="-20" width="140" height="40"/><text class="c" y="-4">introvirt::windows</text><text class="c" y="11">::nt::NtOpenKeyEx</text></g>
<g id="c2-OpenKeyTransacted" transform="translate(1102,2873)"><rect x="-98.5" y="-20" width="197" height="40"/><text x="-87.5" y="-4">introvirt::windows</text><text x="-87.5" y="11" textLength="175">::nt::NtOpenKeyTransacted</text></g>
<g id="c2-OpenProcessTokenEx" transform="translate(1102,3033)"><rect x="-102" y="-20" width="204" height="40"/><text x="-91" y="-4">introvirt::windows</text><text x="-91" y="11" textLength="182">::nt::NtOpenProcessTokenEx</text></g>
<g id="c2-OpenThreadTokenEx" transform="translate(1102,3289)"><rect x="-98.5" y="-20" width="197" height="40"/><text x="-87.5" y="-4">introvirt::windows</text><text x="-87.5" y="11" textLength="175">::nt::NtOpenThreadTokenEx</text></g>
<g id="c2-QueryDirectoryFile" transform="translate(1102,3449)"><rect x="-102" y="-20" width="204" height="40"/><text x="-91" y="-4">introvirt::windows</text><text x="-91" y="11" textLength="182">::nt::NtQueryDirectoryFile</text></g>
<g id="c2-QueryDirectoryFileEx" transform="translate(1102,3513)"><rect x="-109" y="-20" width="218" height="40"/><text x="-98" y="-4">introvirt::windows</text><text x="-98" y="11" textLength="196">::nt::NtQueryDirectoryFileEx</text></g>
<g id="c2-QuerySystemInformationEx" transform="translate(1102,4185)"><rect x="-123" y="-20" width="246" height="40"/><text x="-112" y="-4">introvirt::windows</text><text x="-112" y="11" textLength="224">::nt::NtQuerySystemInformationEx</text></g>
<g id="c2-ReadFile" transform="translate(1102,4537)"><rect x="-70" y="-20" width="140" height="40"/><text class="c" y="-4">introvirt::windows</text><text class="c" y="11">::nt::NtReadFile</text></g>
<g id="c2-WriteFile" transform="translate(1102,4601)"><rect x="-70" y="-20" width="140" height="40"/><text class="c" y="-4">introvirt::windows</text><text class="c" y="11">::nt::NtWriteFile</text></g>
<g id="c2-RequestWaitReplyPort" transform="translate(1102,4953)"><rect x="-109" y="-20" width="218" height="40"/><text x="-98" y="-4">introvirt::windows</text><text x="-98" y="11" textLength="196">::nt::NtRequestWaitReplyPort</text></g>
<g id="c2-SaveKeyEx" transform="translate(1102,5081)"><rect x="-70" y="-20" width="140" height="40"/><text class="c" y="-4">introvirt::windows</text><text class="c" y="11">::nt::NtSaveKeyEx</text></g>
<g id="c2-WaitForMultipleObjects" transform="translate(1102,6137)"><rect x="-116" y="-20" width="232" height="40"/><text x="-105" y="-4">introvirt::windows</text><text x="-105" y="11" textLength="210">::nt::NtWaitForMultipleObjects</text></g>
<g id="c2-WaitForSingleObject" transform="translate(1102,6201)"><rect x="-105.5" y="-20" width="211" height="40"/><text x="-94.5" y="-4">introvirt::windows</text><text x="-94.5" y="11" textLength="189">::nt::NtWaitForSingleObject</text></g>
<g id="c3-PulseEvent" transform="translate(1380,217)"><rect x="-70.5" y="-20" width="141" height="40"/><text class="c" y="-4">introvirt::windows</text><text class="c" y="11">::nt::NtPulseEvent</text></g>
<g id="c3-ResetEvent" transform="translate(1380,281)"><rect x="-70.5" y="-20" width="141" height="40"/><text class="c" y="-4">introvirt::windows</text><text class="c" y="11">::nt::NtResetEvent</text></g>
<g id="c3-LoadKeyEx" transform="translate(1380,2329)"><rect x="-70" y="-20" width="140" height="40"/><text class="c" y="-4">introvirt::windows</text><text class="c" y="11">::nt::NtLoadKeyEx</text></g>
<g id="c3-OpenKeyTransactedEx" transform="translate(1378,2809)"><rect x="-105.5" y="-20" width="211" height="40"/><text x="-94.5" y="-4">introvirt::windows</text><text x="-94.5" y="11" textLength="189">::nt::NtOpenKeyTransactedEx</text></g>
</svg>
